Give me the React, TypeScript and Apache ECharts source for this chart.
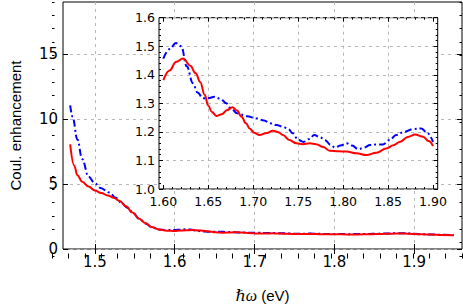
import React, { useEffect, useRef } from 'react';
import * as echarts from 'echarts';

// ---------- data ----------
const redLead: [number, number][] = [
  [1.469, 8.05], [1.474, 6.43], [1.478, 5.68], [1.484, 5.18], [1.492, 4.81], [1.5, 4.5],
  [1.508, 4.3], [1.516, 4.12], [1.524, 3.93], [1.531, 3.7], [1.539, 3.28], [1.547, 2.8],
  [1.555, 2.35], [1.563, 2.0], [1.571, 1.7], [1.58, 1.5], [1.59, 1.41],
];
const blueLead: [number, number][] = [
  [1.469, 11.05], [1.472, 10.17], [1.478, 8.43], [1.484, 6.93], [1.492, 5.56], [1.5, 5.05],
  [1.507, 4.7], [1.518, 4.35], [1.526, 3.95], [1.534, 3.5], [1.541, 3.15], [1.548, 2.75],
  [1.556, 2.3], [1.564, 1.95], [1.572, 1.65], [1.58, 1.5], [1.59, 1.46],
];
const redZoom: [number, number][] = [
  [1.6, 1.381], [1.607, 1.415], [1.614, 1.445], [1.622, 1.457], [1.63, 1.432], [1.636, 1.405],
  [1.641, 1.375], [1.646, 1.33], [1.65, 1.292], [1.654, 1.27], [1.659, 1.256], [1.665, 1.262],
  [1.671, 1.277], [1.677, 1.286], [1.682, 1.275], [1.687, 1.253], [1.692, 1.23], [1.696, 1.212],
  [1.701, 1.197], [1.707, 1.189], [1.714, 1.195], [1.722, 1.204], [1.728, 1.199], [1.733, 1.189],
  [1.74, 1.172], [1.748, 1.16], [1.755, 1.157], [1.763, 1.16], [1.77, 1.157], [1.778, 1.147],
  [1.785, 1.134], [1.795, 1.132], [1.804, 1.131], [1.815, 1.125], [1.826, 1.119], [1.837, 1.127],
  [1.848, 1.142], [1.856, 1.153], [1.863, 1.165], [1.872, 1.182], [1.88, 1.191], [1.889, 1.183],
  [1.895, 1.168], [1.9, 1.151],
];
const blueZoom: [number, number][] = [
  [1.6, 1.457], [1.607, 1.49], [1.614, 1.511], [1.62, 1.5], [1.626, 1.43], [1.633, 1.37],
  [1.638, 1.338], [1.644, 1.318], [1.65, 1.318], [1.657, 1.323], [1.664, 1.315], [1.67, 1.3],
  [1.676, 1.28], [1.682, 1.265], [1.693, 1.255], [1.704, 1.247], [1.712, 1.24], [1.719, 1.23],
  [1.726, 1.224], [1.733, 1.218], [1.739, 1.21], [1.744, 1.195], [1.75, 1.172], [1.756, 1.165],
  [1.762, 1.175], [1.768, 1.189], [1.774, 1.182], [1.78, 1.171], [1.786, 1.155], [1.791, 1.145],
  [1.797, 1.152], [1.804, 1.16], [1.81, 1.152], [1.817, 1.139], [1.823, 1.145], [1.83, 1.154],
  [1.837, 1.156], [1.844, 1.156], [1.852, 1.172], [1.859, 1.189], [1.868, 1.2], [1.878, 1.21],
  [1.887, 1.212], [1.894, 1.195], [1.9, 1.165],
];
const redTail: [number, number][] = [[1.91, 1.13], [1.92, 1.11], [1.935, 1.08], [1.95, 1.05]];
const blueTail: [number, number][] = [[1.91, 1.14], [1.92, 1.12], [1.935, 1.09], [1.95, 1.07]];

// ---------- ticks ----------
const seq = (a: number, b: number, s: number) => {
  const out: number[] = [];
  const n = Math.round((b - a) / s);
  for (let i = 0; i <= n; i++) out.push(Math.round((a + i * s) * 10000) / 10000);
  return out;
};
const mainXRange = [1.46, 1.96];
const mainYRange = [0, 19];
const insetXRange = [1.5952, 1.9052];
const insetYRange = [1.0, 1.6];
const mainXTicks = [1.5, 1.6, 1.7, 1.8, 1.9];
const mainXMinor = seq(1.46, 1.96, 0.02);
const mainYTicks = [0, 5, 10, 15];
const mainYMinor = seq(0, 19, 1);
const insetXTicks = [1.6, 1.65, 1.7, 1.75, 1.8, 1.85, 1.9];
const insetXGridVals = [1.65, 1.7, 1.75, 1.8, 1.85];
const insetXMinor = seq(1.6, 1.9, 0.01);
const insetYTicks = [1.0, 1.1, 1.2, 1.3, 1.4, 1.5, 1.6];
const insetYMinor = seq(1.0, 1.6, 0.02);

const FONT = 'Liberation Sans, Arial, Helvetica, sans-serif';
const NUMFONT = 'DejaVu Sans, Liberation Sans, sans-serif';
const GRID_LINE = { color: '#b8b8b8', type: [3, 4] as number[], width: 1 };

type AxOpt = {
  grid: number; position: string; range: number[]; ticks: number[]; len: number; z: number;
  labels?: { size: number; margin: number; digits: number };
  split?: boolean; noTicks?: boolean; extra?: any;
};
const ax = (p: AxOpt) => ({
  type: 'value',
  gridIndex: p.grid,
  position: p.position,
  min: p.range[0],
  max: p.range[1],
  z: p.z,
  axisLine: { show: false },
  axisTick: {
    show: !p.noTicks, inside: true, length: p.len, customValues: p.ticks,
    lineStyle: { color: '#000', width: 1 },
  },
  axisLabel: p.labels
    ? {
        show: true, customValues: p.ticks, fontSize: p.labels.size, margin: p.labels.margin,
        color: '#000', fontFamily: NUMFONT,
        formatter: (v: number) => v.toFixed(p.labels!.digits),
      }
    : { show: false },
  splitLine: { show: !!p.split, lineStyle: GRID_LINE },
  minorTick: { show: false },
  minorSplitLine: { show: false },
  ...(p.extra || {}),
});

export default function App() {
  const ref = useRef<HTMLDivElement>(null);
  useEffect(() => {
    if (!ref.current) return;
    const chart = echarts.init(ref.current, undefined, { renderer: 'svg' });
    const mainRect = { left: 52, top: 2, width: 410, height: 254 };
    const insetRect = { left: 159, top: 17.7, width: 278.7, height: 171.3 };
    const option: any = {
      animation: false,
      backgroundColor: '#fff',
      grid: [
        { ...mainRect, show: true, borderColor: '#000', borderWidth: 1, backgroundColor: 'transparent', z: 0 },
        { ...mainRect, show: false },
        { ...insetRect, show: true, borderColor: '#000', borderWidth: 1, backgroundColor: '#fff', z: 3 },
        { ...insetRect, show: false },
        { ...insetRect, show: false },
      ],
      xAxis: [
        ax({
          grid: 0, position: 'bottom', range: mainXRange, ticks: mainXTicks, len: 5, z: 1,
          labels: { size: 15, margin: 5, digits: 1 }, split: true,
          extra: {
            name: '{i|ℏω} (eV)', nameLocation: 'middle', nameGap: 38, nameMoveOverlap: false,
            nameTextStyle: {
              fontSize: 15, color: '#000', fontFamily: FONT,
              rich: { i: { fontStyle: 'italic', fontSize: 16, fontFamily: 'Liberation Serif, DejaVu Serif, serif', color: '#000' } },
            },
          },
        }),
        ax({ grid: 0, position: 'top', range: mainXRange, ticks: mainXTicks, len: 5, z: 1 }),
        ax({ grid: 1, position: 'bottom', range: mainXRange, ticks: mainXMinor, len: 2.5, z: 1 }),
        ax({ grid: 1, position: 'top', range: mainXRange, ticks: mainXMinor, len: 2.5, z: 1 }),
        ax({
          grid: 2, position: 'bottom', range: insetXRange, ticks: insetXTicks, len: 4, z: 4,
          labels: { size: 12.5, margin: 6, digits: 2 },
        }),
        ax({ grid: 2, position: 'top', range: insetXRange, ticks: insetXTicks, len: 4, z: 4 }),
        ax({ grid: 3, position: 'bottom', range: insetXRange, ticks: insetXMinor, len: 2, z: 4 }),
        ax({ grid: 3, position: 'top', range: insetXRange, ticks: insetXMinor, len: 2, z: 4 }),
        ax({ grid: 4, position: 'bottom', range: insetXRange, ticks: insetXGridVals, len: 0, z: 4, split: true, noTicks: true }),
      ],
      yAxis: [
        ax({
          grid: 0, position: 'left', range: mainYRange, ticks: mainYTicks, len: 5, z: 1,
          labels: { size: 15, margin: 5, digits: 0 }, split: true,
          extra: {
            name: 'Coul. enhancement', nameLocation: 'middle', nameGap: 40, nameMoveOverlap: false,
            nameTextStyle: { fontSize: 15, color: '#000', fontFamily: FONT },
          },
        }),
        ax({ grid: 0, position: 'right', range: mainYRange, ticks: mainYTicks, len: 5, z: 1 }),
        ax({ grid: 1, position: 'left', range: mainYRange, ticks: mainYMinor, len: 2.5, z: 1 }),
        ax({ grid: 1, position: 'right', range: mainYRange, ticks: mainYMinor, len: 2.5, z: 1 }),
        ax({
          grid: 2, position: 'left', range: insetYRange, ticks: insetYTicks, len: 4, z: 4,
          labels: { size: 12.5, margin: 4, digits: 1 }, split: true,
        }),
        ax({ grid: 2, position: 'right', range: insetYRange, ticks: insetYTicks, len: 4, z: 4 }),
        ax({ grid: 3, position: 'left', range: insetYRange, ticks: insetYMinor, len: 2, z: 4 }),
        ax({ grid: 3, position: 'right', range: insetYRange, ticks: insetYMinor, len: 2, z: 4 }),
        { type: 'value', gridIndex: 4, min: insetYRange[0], max: insetYRange[1], show: false },
      ],
      series: [
        {
          type: 'line', xAxisIndex: 0, yAxisIndex: 0, z: 2,
          data: [...blueLead, ...blueZoom, ...blueTail],
          smooth: 0.4, smoothMonotone: 'x', symbol: 'none',
          lineStyle: { color: '#0000ff', width: 2, type: [7, 3, 2, 3], cap: 'butt' },
        },
        {
          type: 'line', xAxisIndex: 0, yAxisIndex: 0, z: 2,
          data: [...redLead, ...redZoom, ...redTail],
          smooth: 0.4, smoothMonotone: 'x', symbol: 'none',
          lineStyle: { color: '#ff0000', width: 2 },
        },
        {
          type: 'line', xAxisIndex: 4, yAxisIndex: 4, z: 6,
          data: blueZoom,
          smooth: 0.4, smoothMonotone: 'x', symbol: 'none',
          lineStyle: { color: '#0000ff', width: 2, type: [7, 3, 2, 3], cap: 'butt' },
        },
        {
          type: 'line', xAxisIndex: 4, yAxisIndex: 4, z: 6,
          data: redZoom,
          smooth: 0.4, smoothMonotone: 'x', symbol: 'none',
          lineStyle: { color: '#ff0000', width: 2 },
        },
      ],
    };
    chart.setOption(option);
    return () => chart.dispose();
  }, []);
  return (
    <div
      ref={ref}
      style={{ position: 'absolute', left: 0, top: 0, width: 463, height: 308, background: '#fff' }}
    />
  );
}
